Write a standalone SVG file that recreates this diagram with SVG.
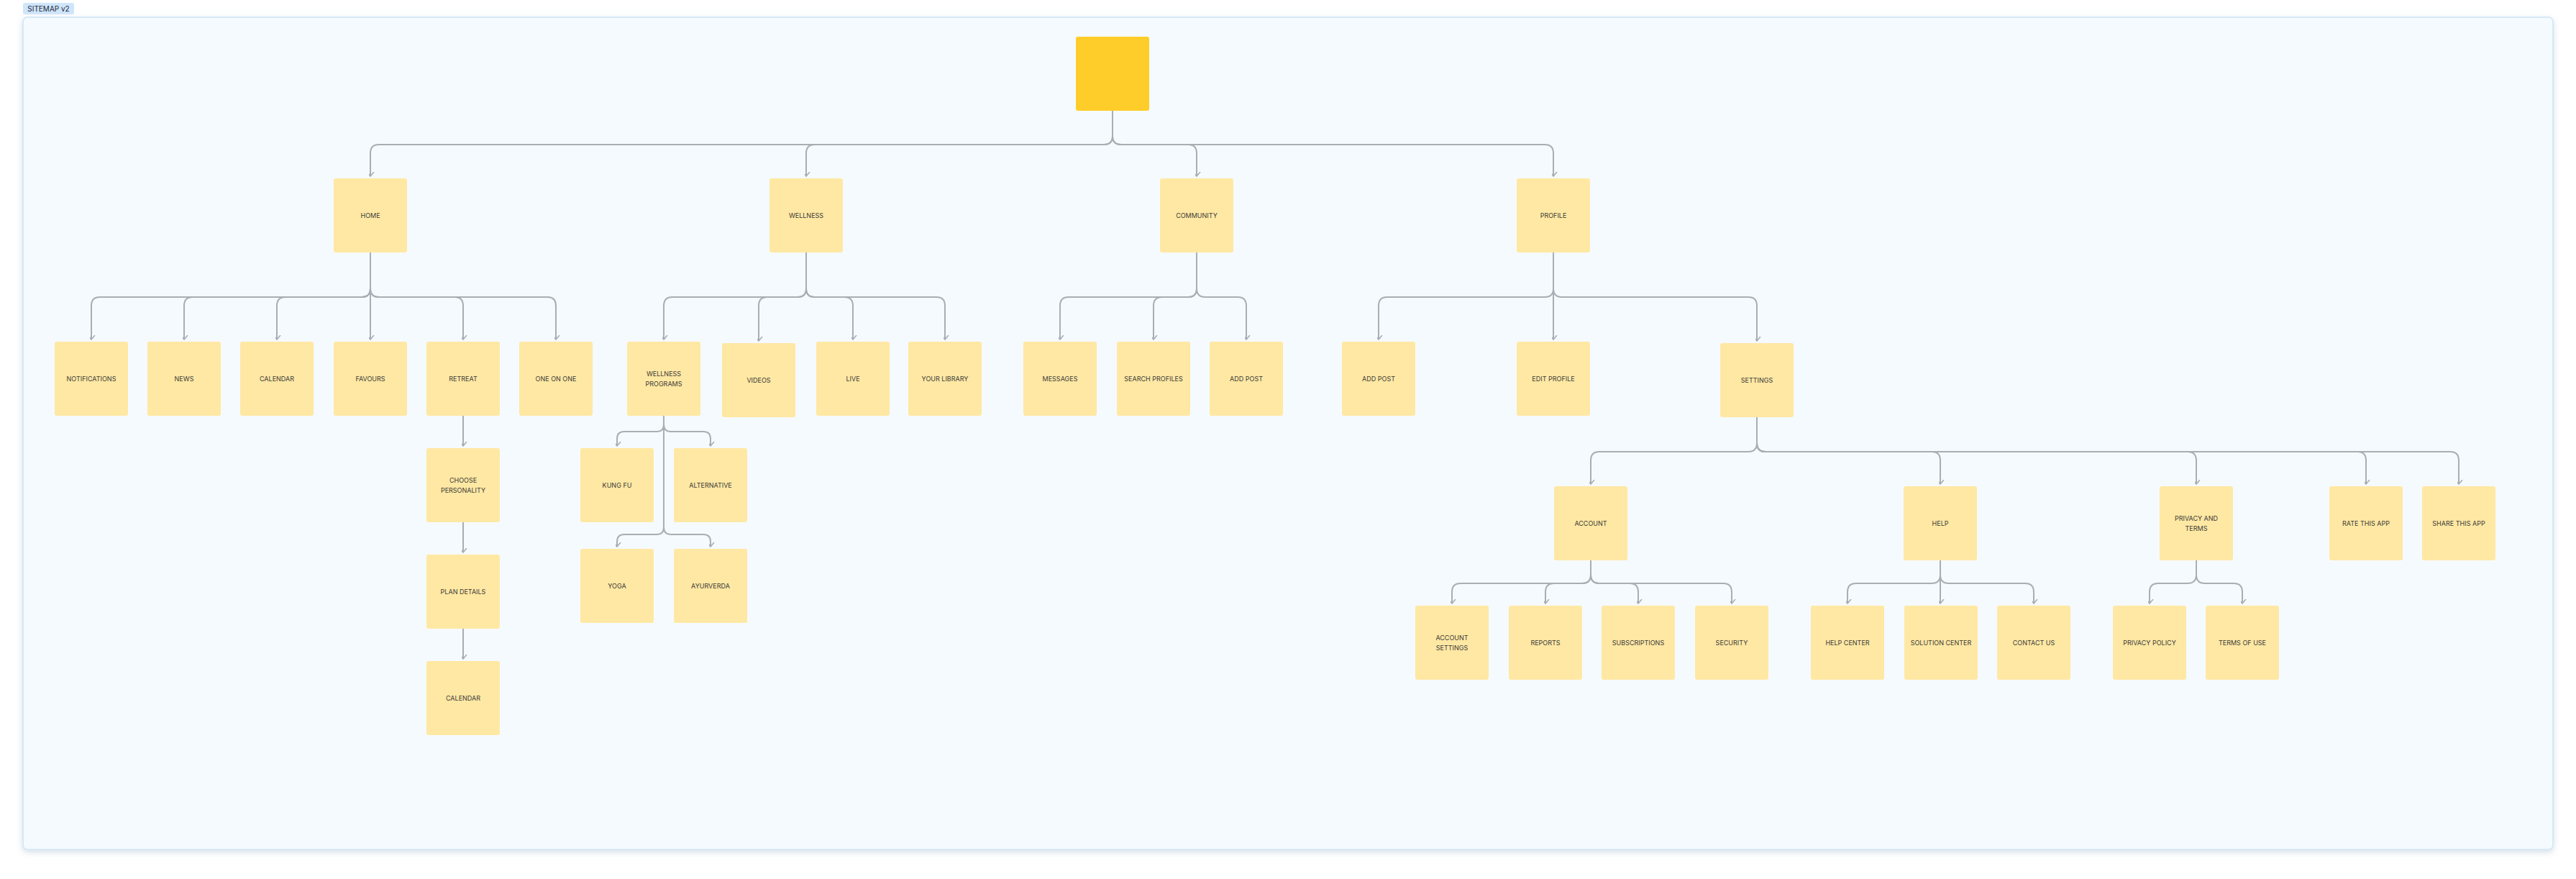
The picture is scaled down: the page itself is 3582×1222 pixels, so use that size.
<svg xmlns="http://www.w3.org/2000/svg" width="3582" height="1222" viewBox="0 0 3582 1222">
<defs>
<style>
.n rect{fill:#ffe8a3;rx:3px}
.n text,.lbl{font-family:Inter,"Liberation Sans",sans-serif;font-size:9px;fill:#3a3a3a;text-anchor:middle;dominant-baseline:central}
.c path{fill:none;stroke:#a9adb5;stroke-width:2;marker-end:url(#ah)}
</style>
<marker id="ah" viewBox="0 0 12 12" refX="6" refY="10" markerWidth="12" markerHeight="12" markerUnits="userSpaceOnUse" orient="auto-start-reverse">
<path d="M1 4 L6 10 L11 4" fill="none" stroke="#a9adb5" stroke-width="1.6" transform="rotate(-90 6 10) translate(0 0)"/>
</marker>
<filter id="sh" x="-2%" y="-2%" width="104%" height="106%"><feDropShadow dx="0" dy="3" stdDeviation="4" flood-color="#8fa6bd" flood-opacity="0.35"/></filter>
</defs>
<rect width="3582" height="1222" fill="#ffffff"/>
<g id="frame">
<rect x="32" y="24" width="3518" height="1157" rx="6" fill="#f5fafe" stroke="#d6e9f8" stroke-width="2" filter="url(#sh)"/>
<rect x="32" y="4" width="71" height="16" rx="3" fill="#cfe5fa"/>
<text class="lbl" x="67.5" y="12" style="font-size:10px;fill:#1f2a3a">SITEMAP v2</text>
</g>
<g class="c" id="connectors">
<path d="M1547 154 V189 Q1547 201 1535 201 H527 Q515 201 515 213 V245"/>
<path d="M1547 154 V189 Q1547 201 1535 201 H1133 Q1121 201 1121 213 V245"/>
<path d="M1547 154 V189 Q1547 201 1559 201 H1652 Q1664 201 1664 213 V245"/>
<path d="M1547 154 V189 Q1547 201 1559 201 H2148 Q2160 201 2160 213 V245"/>
<path d="M515 351 V401 Q515 413 503 413 H139 Q127 413 127 425 V472"/>
<path d="M515 351 V401 Q515 413 503 413 H268 Q256 413 256 425 V472"/>
<path d="M515 351 V401 Q515 413 503 413 H397 Q385 413 385 425 V472"/>
<path d="M515 351 V472"/>
<path d="M515 351 V401 Q515 413 527 413 H632 Q644 413 644 425 V472"/>
<path d="M515 351 V401 Q515 413 527 413 H761 Q773 413 773 425 V472"/>
<path d="M1121 351 V401 Q1121 413 1109 413 H935 Q923 413 923 425 V472"/>
<path d="M1121 351 V401 Q1121 413 1109 413 H1067 Q1055 413 1055 425 V474"/>
<path d="M1121 351 V401 Q1121 413 1133 413 H1174 Q1186 413 1186 425 V472"/>
<path d="M1121 351 V401 Q1121 413 1133 413 H1302 Q1314 413 1314 425 V472"/>
<path d="M1664 351 V401 Q1664 413 1652 413 H1486 Q1474 413 1474 425 V472"/>
<path d="M1664 351 V401 Q1664 413 1652 413 H1616 Q1604 413 1604 425 V472"/>
<path d="M1664 351 V401 Q1664 413 1676 413 H1721 Q1733 413 1733 425 V472"/>
<path d="M2160 351 V401 Q2160 413 2148 413 H1929 Q1917 413 1917 425 V472"/>
<path d="M2160 351 V472"/>
<path d="M2160 351 V401 Q2160 413 2172 413 H2431 Q2443 413 2443 425 V474"/>
<path d="M644 578 V620"/>
<path d="M644 726 V768"/>
<path d="M644 874 V916"/>
<path d="M923 578 V590 Q923 600 913 600 H868 Q858 600 858 610 V620"/>
<path d="M923 578 V590 Q923 600 933 600 H978 Q988 600 988 610 V620"/>
<path d="M923 578 V733 Q923 743 913 743 H868 Q858 743 858 753 V760"/>
<path d="M923 578 V733 Q923 743 933 743 H978 Q988 743 988 753 V760"/>
<path d="M2443 580 V616 Q2443 628 2431 628 H2224 Q2212 628 2212 640 V673"/>
<path d="M2443 580 V616 Q2443 628 2455 628 H2686 Q2698 628 2698 640 V673"/>
<path d="M2443 580 V616 Q2443 628 2455 628 H3042 Q3054 628 3054 640 V673"/>
<path d="M2443 580 V616 Q2443 628 2455 628 H3278 Q3290 628 3290 640 V673"/>
<path d="M2443 580 V616 Q2443 628 2455 628 H3407 Q3419 628 3419 640 V673"/>
<path d="M2212 779 V799 Q2212 811 2200 811 H2031 Q2019 811 2019 823 V839"/>
<path d="M2212 779 V799 Q2212 811 2200 811 H2161 Q2149 811 2149 823 V839"/>
<path d="M2212 779 V799 Q2212 811 2224 811 H2266 Q2278 811 2278 823 V839"/>
<path d="M2212 779 V799 Q2212 811 2224 811 H2396 Q2408 811 2408 823 V839"/>
<path d="M2698 779 V799 Q2698 811 2686 811 H2581 Q2569 811 2569 823 V839"/>
<path d="M2698 779 V839"/>
<path d="M2698 779 V799 Q2698 811 2710 811 H2816 Q2828 811 2828 823 V839"/>
<path d="M3054 779 V799 Q3054 811 3042 811 H3001 Q2989 811 2989 823 V839"/>
<path d="M3054 779 V799 Q3054 811 3066 811 H3106 Q3118 811 3118 823 V839"/>
</g>
<g id="root"><rect x="1496" y="51" width="102" height="103" rx="3" fill="#ffcd29"/></g>
<g class="n" id="home"><rect x="464" y="248" width="102" height="103"/><text x="515" y="299.5">HOME</text></g>
<g class="n" id="wellness"><rect x="1070" y="248" width="102" height="103"/><text x="1121" y="299.5">WELLNESS</text></g>
<g class="n" id="community"><rect x="1613" y="248" width="102" height="103"/><text x="1664" y="299.5">COMMUNITY</text></g>
<g class="n" id="profile"><rect x="2109" y="248" width="102" height="103"/><text x="2160" y="299.5">PROFILE</text></g>
<g class="n" id="notifications"><rect x="76" y="475" width="102" height="103"/><text x="127" y="526.5">NOTIFICATIONS</text></g>
<g class="n" id="news"><rect x="205" y="475" width="102" height="103"/><text x="256" y="526.5">NEWS</text></g>
<g class="n" id="calendar"><rect x="334" y="475" width="102" height="103"/><text x="385" y="526.5">CALENDAR</text></g>
<g class="n" id="favours"><rect x="464" y="475" width="102" height="103"/><text x="515" y="526.5">FAVOURS</text></g>
<g class="n" id="retreat"><rect x="593" y="475" width="102" height="103"/><text x="644" y="526.5">RETREAT</text></g>
<g class="n" id="oneonone"><rect x="722" y="475" width="102" height="103"/><text x="773" y="526.5">ONE ON ONE</text></g>
<g class="n" id="wprograms"><rect x="872" y="475" width="102" height="103"/><text x="923" y="519.5">WELLNESS</text><text x="923" y="533.5">PROGRAMS</text></g>
<g class="n" id="videos"><rect x="1004" y="477" width="102" height="103"/><text x="1055" y="528.5">VIDEOS</text></g>
<g class="n" id="live"><rect x="1135" y="475" width="102" height="103"/><text x="1186" y="526.5">LIVE</text></g>
<g class="n" id="library"><rect x="1263" y="475" width="102" height="103"/><text x="1314" y="526.5">YOUR LIBRARY</text></g>
<g class="n" id="messages"><rect x="1423" y="475" width="102" height="103"/><text x="1474" y="526.5">MESSAGES</text></g>
<g class="n" id="search"><rect x="1553" y="475" width="102" height="103"/><text x="1604" y="526.5">SEARCH PROFILES</text></g>
<g class="n" id="addpost1"><rect x="1682" y="475" width="102" height="103"/><text x="1733" y="526.5">ADD POST</text></g>
<g class="n" id="addpost2"><rect x="1866" y="475" width="102" height="103"/><text x="1917" y="526.5">ADD POST</text></g>
<g class="n" id="editprofile"><rect x="2109" y="475" width="102" height="103"/><text x="2160" y="526.5">EDIT PROFILE</text></g>
<g class="n" id="settings"><rect x="2392" y="477" width="102" height="103"/><text x="2443" y="528.5">SETTINGS</text></g>
<g class="n" id="choose"><rect x="593" y="623" width="102" height="103"/><text x="644" y="667.5">CHOOSE</text><text x="644" y="681.5">PERSONALITY</text></g>
<g class="n" id="plan"><rect x="593" y="771" width="102" height="103"/><text x="644" y="822.5">PLAN DETAILS</text></g>
<g class="n" id="calendar2"><rect x="593" y="919" width="102" height="103"/><text x="644" y="970.5">CALENDAR</text></g>
<g class="n" id="kungfu"><rect x="807" y="623" width="102" height="103"/><text x="858" y="674.5">KUNG FU</text></g>
<g class="n" id="alternative"><rect x="937" y="623" width="102" height="103"/><text x="988" y="674.5">ALTERNATIVE</text></g>
<g class="n" id="yoga"><rect x="807" y="763" width="102" height="103"/><text x="858" y="814.5">YOGA</text></g>
<g class="n" id="ayurveda"><rect x="937" y="763" width="102" height="103"/><text x="988" y="814.5">AYURVERDA</text></g>
<g class="n" id="account"><rect x="2161" y="676" width="102" height="103"/><text x="2212" y="727.5">ACCOUNT</text></g>
<g class="n" id="help"><rect x="2647" y="676" width="102" height="103"/><text x="2698" y="727.5">HELP</text></g>
<g class="n" id="privacy"><rect x="3003" y="676" width="102" height="103"/><text x="3054" y="720.5">PRIVACY AND</text><text x="3054" y="734.5">TERMS</text></g>
<g class="n" id="rate"><rect x="3239" y="676" width="102" height="103"/><text x="3290" y="727.5">RATE THIS APP</text></g>
<g class="n" id="share"><rect x="3368" y="676" width="102" height="103"/><text x="3419" y="727.5">SHARE THIS APP</text></g>
<g class="n" id="accsettings"><rect x="1968" y="842" width="102" height="103"/><text x="2019" y="886.5">ACCOUNT</text><text x="2019" y="900.5">SETTINGS</text></g>
<g class="n" id="reports"><rect x="2098" y="842" width="102" height="103"/><text x="2149" y="893.5">REPORTS</text></g>
<g class="n" id="subs"><rect x="2227" y="842" width="102" height="103"/><text x="2278" y="893.5">SUBSCRIPTIONS</text></g>
<g class="n" id="security"><rect x="2357" y="842" width="102" height="103"/><text x="2408" y="893.5">SECURITY</text></g>
<g class="n" id="helpcenter"><rect x="2518" y="842" width="102" height="103"/><text x="2569" y="893.5">HELP CENTER</text></g>
<g class="n" id="solution"><rect x="2648" y="842" width="102" height="103"/><text x="2699" y="893.5">SOLUTION CENTER</text></g>
<g class="n" id="contact"><rect x="2777" y="842" width="102" height="103"/><text x="2828" y="893.5">CONTACT US</text></g>
<g class="n" id="pp"><rect x="2938" y="842" width="102" height="103"/><text x="2989" y="893.5">PRIVACY POLICY</text></g>
<g class="n" id="tou"><rect x="3067" y="842" width="102" height="103"/><text x="3118" y="893.5">TERMS OF USE</text></g>
</svg>
